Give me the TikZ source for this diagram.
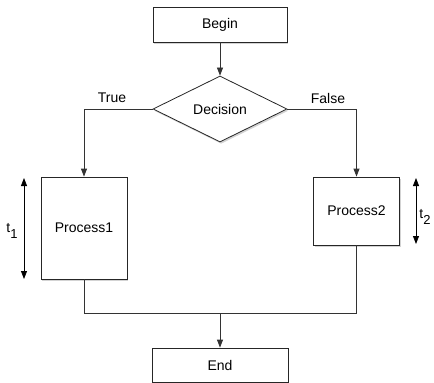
\documentclass[tikz,border=0pt]{standalone}
\usepackage{fontspec}
\setmainfont{Liberation Sans}
\usetikzlibrary{arrows.meta,shapes.geometric,shadows}

\begin{document}
\begin{tikzpicture}[x=1pt,y=-1pt,
    box/.style={draw=black!85,fill=white,line width=0.8pt,inner sep=0pt,
      drop shadow={shadow xshift=1.2pt,shadow yshift=-1.8pt,opacity=0.35}},
    flow/.style={draw=black!80,line width=0.8pt,-{Triangle[length=8pt,width=6pt]}},
    merge/.style={draw=black!80,line width=0.8pt},
    span/.style={draw=black,line width=0.8pt,{Triangle[length=8pt,width=6pt]}-{Triangle[length=8pt,width=6pt]}},
    font=\fontsize{14}{16}\selectfont]
  \useasboundingbox (0,0) rectangle (434,383);
  \coordinate (b) at (220,24.5);
  \coordinate (d) at (220,109);
  \coordinate (one) at (84,228);
  \coordinate (two) at (356.5,211);
  \coordinate (e) at (220,365);

  \node[box,minimum width=134pt,minimum height=35pt] (begin) at (b) {Begin};
  \node[box,diamond,aspect=2,minimum width=134pt,minimum height=66pt] (decision) at (d) {Decision};
  \node[box,minimum width=86pt,minimum height=102pt] (process1) at (one) {Process1};
  \node[box,minimum width=86pt,minimum height=68pt] (process2) at (two) {Process2};
  \node[box,minimum width=136pt,minimum height=34pt] (end) at (e) {End};

  \node (true) at (112,98) {True};
  \node (false) at (328,98) {False};

  \draw[flow] (begin) -- (decision);
  \draw[flow] (decision.west) -| (process1.north);
  \draw[flow] (decision.east) -| (process2.north);

  \coordinate (m1) at (84,313);
  \coordinate (m2) at (356.5,313);
  \coordinate (m) at (220,313);
  \draw[merge] (process1.south) -- (m1) -- (m2) -- (process2.south);
  \draw[flow] (m) -- (end);

  \coordinate (t1top) at (24,178);
  \coordinate (t1bot) at (24,279);
  \coordinate (t2top) at (416,178);
  \coordinate (t2bot) at (416,244);
  \draw[span] (t1top) -- (t1bot);
  \draw[span] (t2top) -- (t2bot);
  \node (t1) at (12,231) {t\raisebox{-0.4em}{\fontsize{13}{15}\selectfont 1}};
  \node (t2) at (425,217) {t\raisebox{-0.4em}{\fontsize{13}{15}\selectfont 2}};
\end{tikzpicture}
\end{document}
